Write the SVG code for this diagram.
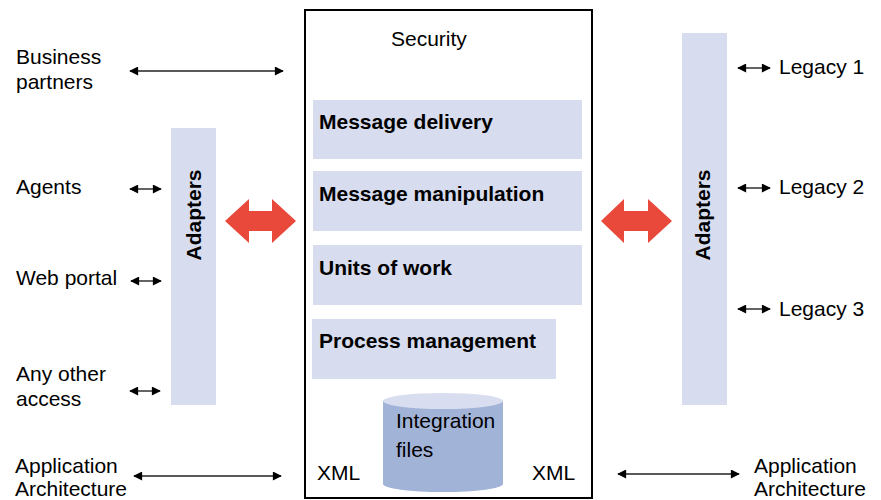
<svg xmlns="http://www.w3.org/2000/svg" width="881" height="500" viewBox="0 0 881 500">
  <defs>
    <style>
      text { font-family: "Liberation Sans", Arial, sans-serif; fill: #000; }
      .lbl { font-size: 21px; }
      .bold { font-size: 21px; font-weight: bold; }
      .panel { fill: #d7dcee; }
      .fat { fill: #e8493a; }
      .link { stroke: #222; stroke-width: 1.4; fill: none; }
      .head { fill: #000; }
    </style>
    <marker id="hd" viewBox="0 0 10 10" refX="9" refY="5" markerUnits="userSpaceOnUse" markerWidth="10" markerHeight="9" orient="auto-start-reverse">
      <path d="M0,0 L10,5 L0,10 Z" class="head"/>
    </marker>
    <marker id="hs" viewBox="0 0 10 10" refX="9" refY="5" markerUnits="userSpaceOnUse" markerWidth="10" markerHeight="9" orient="auto-start-reverse">
      <path d="M0,0 L10,5 L0,10 Z" class="head"/>
    </marker>
  </defs>

  <rect width="881" height="500" fill="#fff"/>

  <!-- central hub -->
  <g id="hub">
    <rect x="305" y="10" width="287" height="488" fill="#fff" stroke="#000" stroke-width="2"/>
    <text class="lbl" x="391" y="46">Security</text>
    <text class="lbl" x="317" y="480">XML</text>
    <text class="lbl" x="532" y="480">XML</text>
  </g>

  <g id="message-delivery">
    <rect class="panel" x="313" y="100" width="269" height="59"/>
    <text class="bold" x="319" y="129">Message delivery</text>
  </g>
  <g id="message-manipulation">
    <rect class="panel" x="313" y="171" width="269" height="60"/>
    <text class="bold" x="319" y="201">Message manipulation</text>
  </g>
  <g id="units-of-work">
    <rect class="panel" x="313" y="245" width="269" height="60"/>
    <text class="bold" x="319" y="275">Units of work</text>
  </g>
  <g id="process-management">
    <rect class="panel" x="312" y="319" width="244" height="60"/>
    <text class="bold" x="319" y="348">Process management</text>
  </g>

  <g id="integration-files">
    <path d="M383,401 L383,484 A60,8 0 0 0 503,484 L503,401 Z" fill="#a2b3d8"/>
    <ellipse cx="443" cy="401" rx="60" ry="8" fill="#d8def0"/>
    <text class="lbl" x="396" y="428">Integration</text>
    <text class="lbl" x="396" y="457">files</text>
  </g>

  <!-- adapter bars -->
  <g id="adapters-left">
    <rect class="panel" x="171" y="128" width="45" height="277"/>
    <text class="bold" transform="translate(201,215) rotate(-90)" text-anchor="middle">Adapters</text>
  </g>
  <g id="adapters-right">
    <rect class="panel" x="682" y="33" width="45" height="372"/>
    <text class="bold" transform="translate(710,215) rotate(-90)" text-anchor="middle">Adapters</text>
  </g>

  <!-- outside parties -->
  <g id="business-partners">
    <text class="lbl" x="16" y="64">Business</text>
    <text class="lbl" x="16" y="89">partners</text>
  </g>
  <g id="agents"><text class="lbl" x="16" y="194">Agents</text></g>
  <g id="web-portal"><text class="lbl" x="16" y="285">Web portal</text></g>
  <g id="any-other-access">
    <text class="lbl" x="16" y="381">Any other</text>
    <text class="lbl" x="16" y="406">access</text>
  </g>
  <g id="app-arch-left">
    <text class="lbl" x="15" y="473">Application</text>
    <text class="lbl" x="15" y="496">Architecture</text>
  </g>
  <g id="app-arch-right">
    <text class="lbl" x="754" y="473">Application</text>
    <text class="lbl" x="754" y="496">Architecture</text>
  </g>
  <g id="legacy-1"><text class="lbl" x="779" y="74">Legacy 1</text></g>
  <g id="legacy-2"><text class="lbl" x="779" y="194">Legacy 2</text></g>
  <g id="legacy-3"><text class="lbl" x="779" y="316">Legacy 3</text></g>

  <!-- connectors -->
  <g id="connectors">
    <line class="link" x1="130" y1="71" x2="283" y2="71" marker-start="url(#hd)" marker-end="url(#hd)"/>
    <line class="link" x1="134" y1="476" x2="281" y2="476" marker-start="url(#hd)" marker-end="url(#hd)"/>
    <line class="link" x1="618" y1="474" x2="739" y2="474" marker-start="url(#hd)" marker-end="url(#hd)"/>

    <line class="link" x1="130" y1="189" x2="161" y2="189" marker-start="url(#hs)" marker-end="url(#hs)"/>
    <line class="link" x1="131" y1="281" x2="161" y2="281" marker-start="url(#hs)" marker-end="url(#hs)"/>
    <line class="link" x1="130" y1="391" x2="160" y2="391" marker-start="url(#hs)" marker-end="url(#hs)"/>

    <line class="link" x1="738" y1="68" x2="770" y2="68" marker-start="url(#hs)" marker-end="url(#hs)"/>
    <line class="link" x1="738" y1="188" x2="770" y2="188" marker-start="url(#hs)" marker-end="url(#hs)"/>
    <line class="link" x1="738" y1="309" x2="770" y2="309" marker-start="url(#hs)" marker-end="url(#hs)"/>

    <polygon class="fat" points="225,221 249,199 249,211 272,211 272,199 296,221 272,243 272,231 249,231 249,243"/>
    <polygon class="fat" points="601,221 624,199 624,211 648,211 648,199 672,221 648,243 648,231 624,231 624,243"/>
  </g>
</svg>
